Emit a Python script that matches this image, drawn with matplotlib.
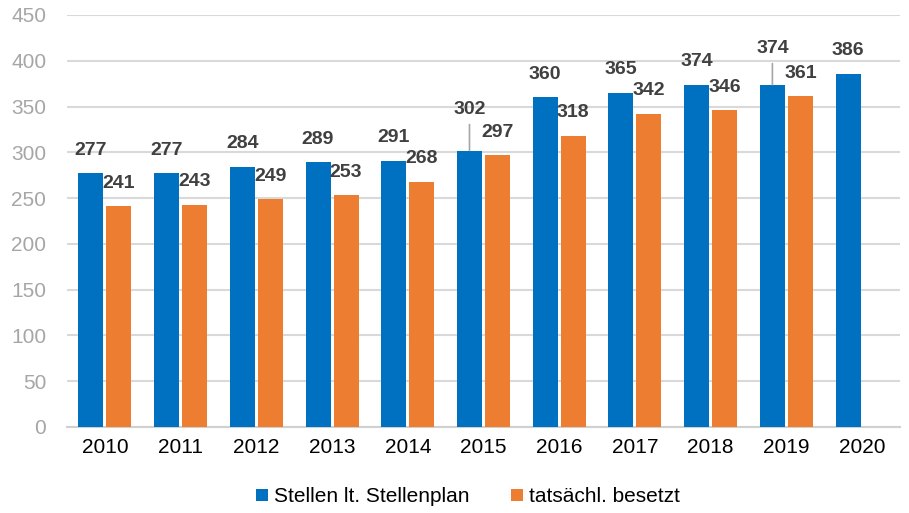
import numpy as np
import matplotlib.pyplot as plt

plt.rcParams['font.family'] = ['Liberation Sans', 'DejaVu Sans']

# Data
years = ['2010', '2011', '2012', '2013', '2014', '2015',
         '2016', '2017', '2018', '2019', '2020']
stellenplan = [277, 277, 284, 289, 291, 302, 360, 365, 374, 374, 386]
besetzt = [241, 243, 249, 253, 268, 297, 318, 342, 346, 361, None]

blue = '#0070C0'
orange = '#ED7D31'
label_col = '#404040'

fig = plt.figure(figsize=(9.09, 5.13), dpi=100)
ax = fig.add_axes([67/909, 1 - 427/513, 833/909, 412/513])

x = np.arange(len(years))
w = 0.33
gap = 0.02

ax.bar(x - w/2 - gap, stellenplan, w, color=blue, label='Stellen lt. Stellenplan', zorder=3)
bes_x = [xi for xi, v in zip(x, besetzt) if v is not None]
bes_v = [v for v in besetzt if v is not None]
ax.bar(np.array(bes_x) + w/2 + gap, bes_v, w, color=orange, label='tatsächl. besetzt', zorder=3)

# data labels (some lifted with a leader line)
lifted = {5: 41, 9: 36}
for xi, v in zip(x, stellenplan):
    off = lifted.get(xi, 23)
    ax.annotate(str(v), (xi - w/2 - gap, v), xytext=(0, off), textcoords='offset pixels',
                ha='center', va='center', fontsize=14, fontweight='bold', color=label_col)
    if xi in lifted:
        ax.annotate('', (xi - w/2 - gap, v), xytext=(0, off - 15), textcoords='offset pixels',
                    arrowprops=dict(arrowstyle='-', color='#A6A6A6', lw=1.2, shrinkA=0, shrinkB=0))
for xi, v in zip(bes_x, bes_v):
    ax.annotate(str(v), (xi + w/2 + gap, v), xytext=(0, 23), textcoords='offset pixels',
                ha='center', va='center', fontsize=14, fontweight='bold', color=label_col)

ax.set_xlim(-0.5, len(years) - 0.5)
ax.set_ylim(0, 450)
ax.set_yticks(np.arange(0, 451, 50))
ax.set_xticks(x)
ax.set_xticklabels(years)
ax.yaxis.grid(True, color='#D9D9D9', lw=1.5, zorder=0)
ax.set_axisbelow(True)
for s in ['top', 'right', 'left']:
    ax.spines[s].set_visible(False)
ax.spines['bottom'].set_color('#D0D0D0')
ax.spines['bottom'].set_linewidth(1.5)
ax.tick_params(axis='y', length=0, labelsize=15, labelcolor='#A6A6A6', pad=15)
ax.tick_params(axis='x', length=0, labelsize=15, labelcolor='#000000', pad=8)

leg = fig.legend(loc='center', bbox_to_anchor=(468/909, 1 - 497/513), ncol=2, frameon=False,
                 fontsize=15, handlelength=0.55, handleheight=0.55, handletextpad=0.3,
                 columnspacing=2.0)

fig.savefig('out.png', dpi=100)
